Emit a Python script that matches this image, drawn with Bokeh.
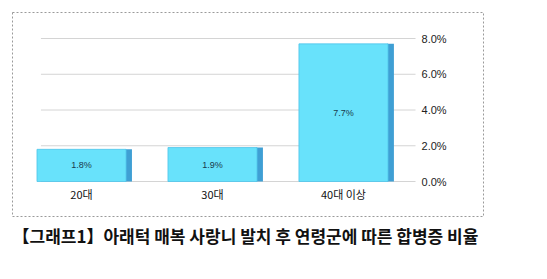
from bokeh.plotting import figure
from bokeh.models import (ColumnDataSource, Range1d, LinearAxis, FixedTicker, Title,
                          CustomJSTickFormatter)
from bokeh.transform import dodge
from bokeh.core.properties import value
from bokeh.embed import file_html
from bokeh.resources import INLINE

categories = ["20대", "30대", "40대 이상"]
rates = [1.8, 1.9, 7.7]
rate_labels = ["1.8%", "1.9%", "7.7%"]
y_ticks = [0, 2, 4, 6, 8]
caption = "【그래프1】아래턱 매복 사랑니 발치 후 연령군에 따른 합병증 비율"

xs = list(range(len(categories)))
src = ColumnDataSource(dict(x=xs, top=rates, mid=[r / 2 for r in rates], lab=rate_labels))
grid_src = ColumnDataSource(dict(y=y_ticks, x0=[-0.31] * len(y_ticks), x1=[2.55] * len(y_ticks)))

p = figure(width=547, height=279, output_backend="svg", toolbar_location=None,
           x_range=Range1d(-0.527, 3.069), y_range=Range1d(-1.958, 9.455),
           x_axis_location=None, y_axis_location=None,
           min_border_left=12, min_border_right=64, min_border_top=12, min_border_bottom=63)
p.outline_line_color = "#9a9a9a"
p.outline_line_dash = "2 2"
p.outline_line_width = 1
p.background_fill_color = "white"
p.border_fill_color = "white"
p.xgrid.grid_line_color = None
p.ygrid.grid_line_color = None

# gridlines
p.segment(x0="x0", x1="x1", y0="y", y1="y", source=grid_src, line_color="#d4d4d4", line_width=1)

# right axis drawn inside the frame
ax = LinearAxis(ticker=FixedTicker(ticks=y_ticks),
                formatter=CustomJSTickFormatter(code="return tick.toFixed(1) + '%'"),
                fixed_location=2.55)
ax.axis_line_color = None
ax.major_tick_line_color = None
ax.minor_tick_line_color = None
ax.major_tick_out = 0
ax.major_tick_in = 0
ax.major_label_standoff = 6
ax.major_label_text_font = "Liberation Sans"
ax.major_label_text_font_size = "11px"
ax.major_label_text_color = "#222222"
p.add_layout(ax, "right")

# x axis at zero line
xax = LinearAxis(ticker=FixedTicker(ticks=xs), fixed_location=0)
xax.major_label_overrides = {i: c for i, c in enumerate(categories)}
xax.axis_line_color = None
xax.major_tick_line_color = None
xax.minor_tick_line_color = None
xax.major_tick_out = 0
xax.major_tick_in = 0
xax.major_label_standoff = 4
xax.major_label_text_font = "Noto Sans CJK KR"
xax.major_label_text_font_size = "11px"
xax.major_label_text_color = "#111111"
p.add_layout(xax, "below")

# bars: side face + front face
p.vbar(x=dodge("x", 0.36), top="top", bottom=0, width=0.05, source=src,
       fill_color="#3f9fd4", line_color=None)
p.vbar(x="x", top="top", bottom=0, width=0.68, source=src,
       fill_color="#68e2fb", line_color="#4fc4ea", line_width=0.8)

p.text(x="x", y="mid", text="lab", source=src, text_align="center", text_baseline="middle",
       text_font=value("Liberation Sans"), text_font_size="9px", text_color="#1a3a4a")

cap = Title(text=caption, align="left", text_font="Noto Sans CJK KR", text_font_style="bold",
            text_font_size="17px", text_color="#111111", offset=0, standoff=8)
p.add_layout(cap, "below")

open("out.html", "w").write(file_html(p, INLINE))
